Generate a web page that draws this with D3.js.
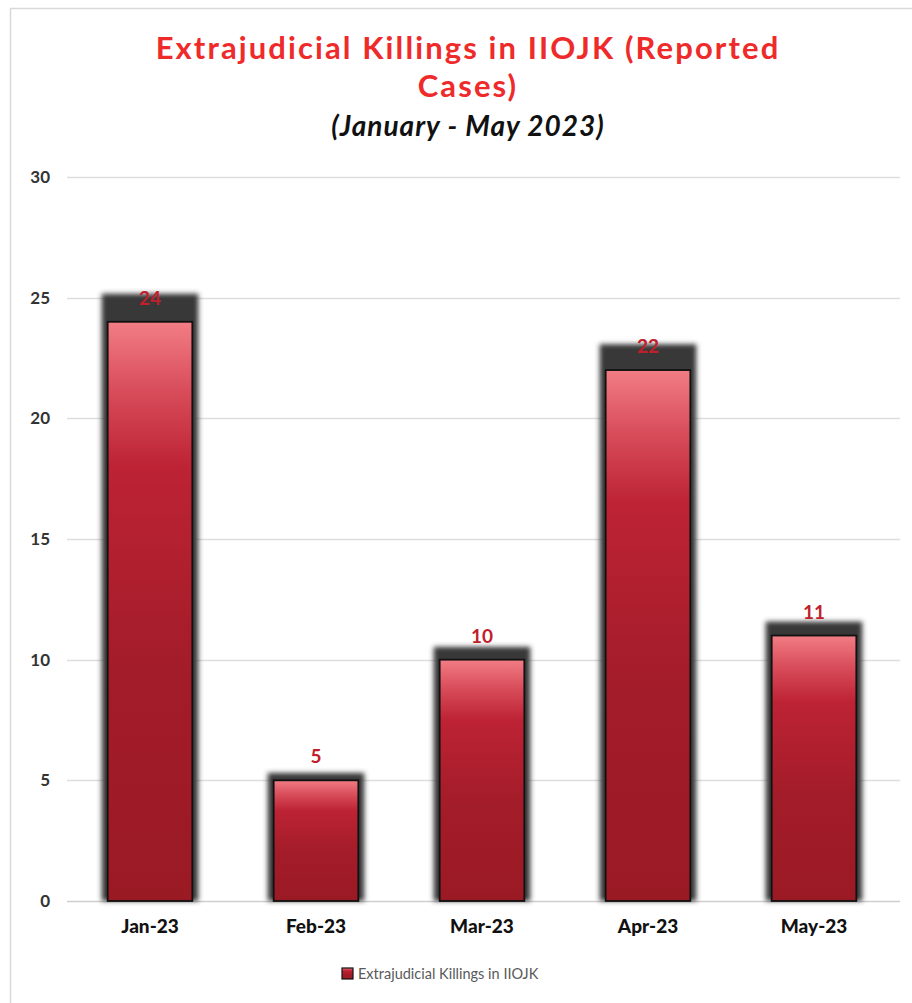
<!DOCTYPE html>
<html>
<head>
<meta charset="utf-8">
<script src="https://cdn.jsdelivr.net/npm/d3@7"></script>
<style>
  body { margin: 0; background: #fff; }
  svg { display: block; font-family: Lato, "Open Sans", sans-serif; }
</style>
</head>
<body>
<div id="chart"></div>
<script>
const months = ["Jan-23", "Feb-23", "Mar-23", "Apr-23", "May-23"];
const killings = [24, 5, 10, 22, 11];
const yTicks = [0, 5, 10, 15, 20, 25, 30];
const seriesName = "Extrajudicial Killings in IIOJK";

const width = 912, height = 1003;
const margin = { top: 177, right: 15, bottom: 102, left: 67 };

const svg = d3.select("#chart").append("svg")
  .attr("width", width)
  .attr("height", height);

const defs = svg.append("defs");
const grad = defs.append("linearGradient")
  .attr("id", "barGrad")
  .attr("x1", 0).attr("y1", 0).attr("x2", 0).attr("y2", 1);
grad.append("stop").attr("offset", "0%").attr("stop-color", "#f27d84");
grad.append("stop").attr("offset", "12%").attr("stop-color", "#d84c5a");
grad.append("stop").attr("offset", "25%").attr("stop-color", "#bd2334");
grad.append("stop").attr("offset", "60%").attr("stop-color", "#a31c29");
grad.append("stop").attr("offset", "100%").attr("stop-color", "#9a1a24");

const blur = defs.append("filter").attr("id", "shadowBlur")
  .attr("x", "-20%").attr("y", "-20%").attr("width", "140%").attr("height", "140%");
blur.append("feGaussianBlur").attr("stdDeviation", 2.5);

// chart frame
svg.append("path")
  .attr("d", `M10.5,${height} V8.5 H${width}`)
  .attr("fill", "none")
  .attr("stroke", "#d9d9d9")
  .attr("stroke-width", 1.5);

// title
svg.append("text")
  .attr("x", 468).attr("y", 59)
  .attr("text-anchor", "middle")
  .attr("font-size", "31px").attr("font-weight", "bold")
  .attr("letter-spacing", "2.1px")
  .attr("fill", "#ee2a2a")
  .text("Extrajudicial Killings in IIOJK (Reported");
svg.append("text")
  .attr("x", 468).attr("y", 97)
  .attr("text-anchor", "middle")
  .attr("font-size", "31px").attr("font-weight", "bold")
  .attr("letter-spacing", "2.1px")
  .attr("fill", "#ee2a2a")
  .text("Cases)");
svg.append("text")
  .attr("x", 468).attr("y", 136)
  .attr("text-anchor", "middle")
  .attr("font-size", "28px").attr("font-weight", "bold")
  .attr("font-style", "italic")
  .attr("letter-spacing", "1px")
  .attr("fill", "#111")
  .text("(January - May 2023)");

const x = d3.scaleBand()
  .domain(months)
  .range([margin.left, width - margin.right])
  .paddingInner(0.49)
  .paddingOuter(0.245);

const y = d3.scaleLinear()
  .domain([0, 30])
  .range([height - margin.bottom, margin.top]);

// gridlines
svg.append("g")
  .selectAll("line")
  .data(yTicks)
  .join("line")
  .attr("x1", margin.left).attr("x2", width - 12)
  .attr("y1", d => Math.round(y(d)) + 0.5)
  .attr("y2", d => Math.round(y(d)) + 0.5)
  .attr("stroke", d => d === 0 ? "#cfcfcf" : "#dedede")
  .attr("stroke-width", 1.3);

// y axis labels
const yAxis = svg.append("g")
  .attr("transform", `translate(${margin.left - 17},0)`)
  .call(d3.axisLeft(y).tickValues(yTicks).tickSize(0).tickPadding(0));
yAxis.select(".domain").remove();
yAxis.selectAll("text")
  .attr("font-family", "Lato, sans-serif")
  .attr("font-size", "17px")
  .attr("font-weight", "bold")
  .attr("fill", "#333");

// x axis labels
const xAxis = svg.append("g")
  .attr("transform", `translate(0,${height - margin.bottom})`)
  .call(d3.axisBottom(x).tickSize(0).tickPadding(19));
xAxis.select(".domain").remove();
xAxis.selectAll("text")
  .attr("font-family", "Lato, sans-serif")
  .attr("font-size", "19px")
  .attr("font-weight", "900")
  .attr("fill", "#111");

const data = months.map((m, i) => ({ month: m, value: killings[i] }));
const base = y(0);

// shadows
svg.append("g")
  .selectAll("rect")
  .data(data)
  .join("rect")
  .attr("x", d => x(d.month) - 6)
  .attr("width", x.bandwidth() + 12)
  .attr("y", d => base - (base - y(d.value)) * 1.045 - 2)
  .attr("height", d => (base - y(d.value)) * 1.045 + 2)
  .attr("fill", "#383838")
  .attr("filter", "url(#shadowBlur)");

// bars
svg.append("g")
  .selectAll("rect")
  .data(data)
  .join("rect")
  .attr("x", d => x(d.month))
  .attr("width", x.bandwidth())
  .attr("y", d => y(d.value))
  .attr("height", d => base - y(d.value))
  .attr("fill", "url(#barGrad)")
  .attr("stroke", "#111")
  .attr("stroke-width", 1.8);

// value labels
svg.append("g")
  .selectAll("text")
  .data(data)
  .join("text")
  .attr("x", d => x(d.month) + x.bandwidth() / 2)
  .attr("y", d => y(d.value) - 17)
  .attr("text-anchor", "middle")
  .attr("font-size", "19px")
  .attr("font-weight", "bold")
  .attr("fill", "#c0202b")
  .text(d => d.value);

// legend
const legend = svg.append("g").attr("transform", "translate(342,968)");
legend.append("rect")
  .attr("width", 11).attr("height", 11)
  .attr("fill", "url(#barGrad)")
  .attr("stroke", "#111").attr("stroke-width", 1.2);
legend.append("text")
  .attr("x", 16).attr("y", 11)
  .attr("font-size", "14.5px")
  .attr("fill", "#595959")
  .text(seriesName);
</script>
</body>
</html>
